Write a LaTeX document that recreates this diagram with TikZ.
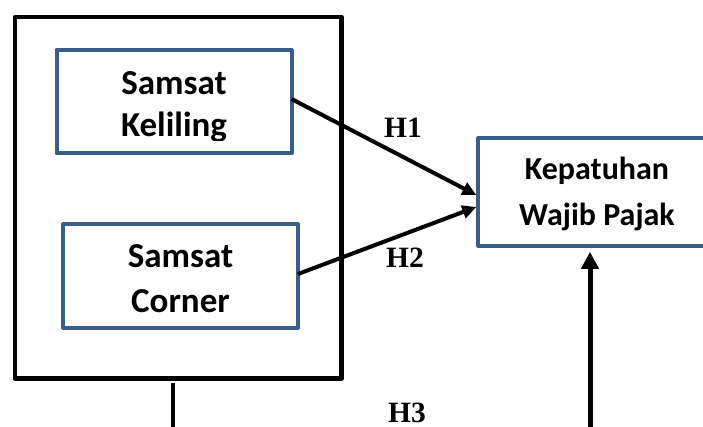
\documentclass[tikz,border=0pt]{standalone}
\usepackage{fontspec}
\setmainfont{Liberation Serif}
\newfontfamily\boxfont{Carlito}
\usetikzlibrary{arrows.meta}
\definecolor{boxblue}{RGB}{56,93,138}
\begin{document}
\begin{tikzpicture}[x=1pt,y=-1pt,
  outerbox/.style={draw=black, line width=4.7pt, line join=round, inner sep=0pt, outer sep=0pt},
  bluebox/.style={draw=boxblue, line width=4pt, line join=round, inner sep=0pt, outer sep=0pt},
  boxtxt/.style={font=\boxfont\bfseries\fontsize{35}{42}\selectfont, align=center, inner sep=0pt, anchor=base},
  kettxt/.style={font=\boxfont\bfseries\fontsize{32}{46}\selectfont, align=center, inner sep=0pt, anchor=base},
  hlab/.style={font=\bfseries\fontsize{29.5}{30}\selectfont, inner sep=0pt, anchor=base},
  arr/.style={line width=4pt, -{Triangle[length=14pt,width=13pt]}},
  bigarr/.style={line width=5pt, -{Triangle[length=17pt,width=17pt]}},
  plain/.style={line width=4.5pt}]
\useasboundingbox (0,0) rectangle (703,427);
\clip (0,0) rectangle (703,427);

\node[outerbox, minimum width=326.5pt, minimum height=361.5pt] (outer) at (178.25,197.75) {};
\node[bluebox, minimum width=235pt, minimum height=103pt] (kel) at (174,102) {};
\node[bluebox, minimum width=235pt, minimum height=103pt] (cor) at (180.5,276) {};
\node[bluebox, minimum width=252pt, minimum height=107.7pt] (kep) at (604.3,192) {};

\begin{scope}
  \clip (50,40) rectangle (300,140.5);
  \node[boxtxt] (keltxt) at (174,137) {Samsat\\Keliling};
\end{scope}
\node[boxtxt, font=\boxfont\bfseries\fontsize{35}{44}\selectfont] (cortxt) at (180.5,312) {Samsat\\Corner};
\node[kettxt] (keptxt) at (597,226) {Kepatuhan\\Wajib Pajak};

\draw[arr] ([yshift=3pt]kel.east) -- ([xshift=-2pt,yshift=-3pt]kep.west);
\draw[arr] ([yshift=2pt]cor.east) -- ([xshift=-2pt,yshift=-15pt]kep.west);

\coordinate (h3s) at (590,432);
\path (h3s |- kep.south) coordinate (h3e);
\draw[bigarr] (h3s) -- ([yshift=-6pt]h3e);

\coordinate (vb) at (173,432);
\path (vb |- outer.south) coordinate (vt);
\draw[plain] (vb) -- ([yshift=-4.5pt]vt);

\node[hlab] (h1) at (403,138) {H1};
\node[hlab] (h2) at (405,268) {H2};
\node[hlab] (h3) at (407,422) {H3};
\end{tikzpicture}
\end{document}
